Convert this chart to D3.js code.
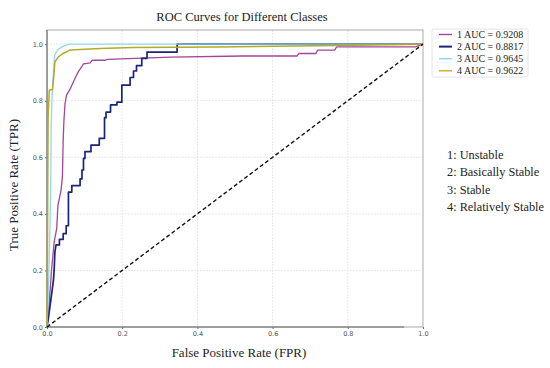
<!DOCTYPE html>
<html>
<head>
<meta charset="utf-8">
<script src="https://cdn.jsdelivr.net/npm/d3@7"></script>
<style>
  body { margin: 0; background: #fff; }
  svg { display: block; }
  .serif { font-family: "Liberation Serif", "Times New Roman", serif; fill: #222; }
  .tick text { font-family: "DejaVu Sans", sans-serif; font-size: 6.5px; fill: #555; }
</style>
</head>
<body>
<svg id="chart" width="550" height="368"></svg>
<script>
// ROC points, [fpr, tpr]
const CLASS_1 = [[0,0],[0.004,0.05],[0.012,0.2],[0.019,0.3],[0.026,0.35],[0.029,0.43],[0.037,0.48],[0.041,0.53],[0.043,0.66],[0.045,0.73],[0.048,0.79],[0.052,0.82],[0.061,0.84],[0.066,0.855],[0.075,0.88],[0.083,0.902],[0.092,0.92],[0.097,0.93],[0.115,0.934],[0.12,0.943],[0.155,0.943],[0.16,0.946],[0.33,0.954],[0.52,0.958],[0.665,0.958],[0.67,0.967],[0.715,0.967],[0.72,0.979],[0.765,0.979],[0.77,0.99],[0.98,0.99],[1,1]];
const CLASS_2 = [[0,0],[0.003,0.025],[0.01,0.093],[0.017,0.164],[0.019,0.2],[0.021,0.265],[0.024,0.29],[0.033,0.29],[0.033,0.31],[0.043,0.31],[0.043,0.33],[0.051,0.33],[0.051,0.358],[0.057,0.358],[0.057,0.477],[0.066,0.477],[0.066,0.5],[0.088,0.5],[0.088,0.524],[0.093,0.524],[0.093,0.555],[0.097,0.555],[0.097,0.596],[0.101,0.596],[0.101,0.62],[0.117,0.62],[0.117,0.643],[0.139,0.643],[0.139,0.667],[0.153,0.667],[0.153,0.74],[0.157,0.74],[0.157,0.76],[0.169,0.76],[0.169,0.785],[0.186,0.785],[0.186,0.795],[0.199,0.795],[0.199,0.855],[0.221,0.855],[0.221,0.882],[0.230,0.882],[0.230,0.905],[0.238,0.905],[0.238,0.924],[0.252,0.924],[0.252,0.95],[0.266,0.95],[0.266,0.972],[0.346,0.972],[0.346,1],[1,1]];
const CLASS_3 = [[0,0],[0.003,0.1],[0.007,0.3],[0.01,0.5],[0.011,0.7],[0.013,0.8],[0.015,0.86],[0.017,0.9],[0.02,0.96],[0.028,0.98],[0.039,0.99],[0.057,1],[1,1]];
const CLASS_4 = [[0,0],[0.001,0.2],[0.002,0.5],[0.003,0.743],[0.006,0.837],[0.015,0.84],[0.019,0.902],[0.021,0.937],[0.03,0.955],[0.043,0.967],[0.061,0.979],[0.141,0.985],[0.229,0.988],[0.45,0.99],[0.77,0.995],[1,1]];

const SERIES = [CLASS_1, CLASS_2, CLASS_3, CLASS_4];
const LEGEND_LABELS = ["1 AUC = 0.9208", "2 AUC = 0.8817", "3 AUC = 0.9645", "4 AUC = 0.9622"];
const COLORS = ["#a2459c", "#1c2478", "#8fd8f0", "#b4aa26"];
const WIDTHS = [1.3, 1.7, 1.3, 1.5];
const CLASS_NAMES = ["1: Unstable", "2: Basically Stable", "3: Stable", "4: Relatively Stable"];
const TICKS = [0, 0.2, 0.4, 0.6, 0.8, 1.0];

const svg = d3.select("#chart");
const M = {left: 47, right: 423, top: 30, bottom: 327};

const x = d3.scaleLinear().domain([0, 1]).range([M.left, M.right]);
const y = d3.scaleLinear().domain([0, 1.05]).range([M.bottom, M.top]);

// grid
svg.append("g").selectAll("line").data(TICKS.slice(1, 5)).join("line")
    .attr("x1", d => x(d)).attr("x2", d => x(d))
    .attr("y1", M.top).attr("y2", M.bottom)
    .attr("stroke", "#ddd").attr("stroke-width", 0.7).attr("stroke-dasharray", "2,1");
svg.append("g").selectAll("line").data(TICKS.slice(1)).join("line")
    .attr("x1", M.left).attr("x2", M.right)
    .attr("y1", d => y(d)).attr("y2", d => y(d))
    .attr("stroke", "#ddd").attr("stroke-width", 0.7).attr("stroke-dasharray", "2,1");

// axes
const xAxis = svg.append("g").attr("transform", `translate(0,${M.bottom})`)
    .call(d3.axisBottom(x).tickValues(TICKS).tickFormat(d3.format(".1f")).tickSize(2).tickPadding(2));
const yAxis = svg.append("g").attr("transform", `translate(${M.left},0)`)
    .call(d3.axisLeft(y).tickValues(TICKS).tickFormat(d3.format(".1f")).tickSize(2).tickPadding(2));
[xAxis, yAxis].forEach(a => {
    a.select(".domain").remove();
    a.selectAll(".tick line").attr("stroke", "#666");
});
xAxis.selectAll(".tick").filter(d => d === 1).select("text").attr("fill", "#bbb");

// frame
svg.append("rect")
    .attr("x", M.left).attr("y", M.top)
    .attr("width", M.right - M.left).attr("height", M.bottom - M.top)
    .attr("fill", "none").attr("stroke", "#aaa").attr("stroke-width", 1);
svg.append("line").attr("x1", M.left).attr("x2", M.left).attr("y1", M.top).attr("y2", M.bottom)
    .attr("stroke", "#777").attr("stroke-width", 1.2);
svg.append("line").attr("x1", M.left).attr("x2", x(0.95)).attr("y1", M.bottom).attr("y2", M.bottom)
    .attr("stroke", "#666").attr("stroke-width", 1.2);

// curves
const line = d3.line().x(d => x(d[0])).y(d => y(d[1]));
svg.append("g").selectAll("path").data(SERIES).join("path")
    .attr("d", line)
    .attr("fill", "none")
    .attr("stroke", (d, i) => COLORS[i])
    .attr("stroke-width", (d, i) => WIDTHS[i])
    .attr("stroke-linejoin", "round");

// chance line
svg.append("path")
    .attr("d", line([[0, 0], [1, 1]]))
    .attr("stroke", "#111").attr("stroke-width", 1.4)
    .attr("stroke-dasharray", "4,2.5").attr("fill", "none");

// title + labels
svg.append("text").attr("class", "serif")
    .attr("x", 242).attr("y", 21).attr("text-anchor", "middle")
    .attr("font-size", 12.5).text("ROC Curves for Different Classes");
svg.append("text").attr("class", "serif")
    .attr("x", 239).attr("y", 357).attr("text-anchor", "middle")
    .attr("font-size", 13).text("False Positive Rate (FPR)");
svg.append("text").attr("class", "serif")
    .attr("transform", "translate(18,185) rotate(-90)").attr("text-anchor", "middle")
    .attr("font-size", 13).text("True Positive Rate (TPR)");

// legend
const lg = svg.append("g");
lg.append("rect").attr("x", 432).attr("y", 29).attr("width", 96).attr("height", 48)
    .attr("fill", "#fff").attr("stroke", "#ddd").attr("stroke-width", 0.8).attr("rx", 1.5);
const rows = lg.selectAll("g").data(LEGEND_LABELS).join("g")
    .attr("transform", (d, i) => `translate(0,${34.5 + i * 12.1})`);
rows.append("line").attr("x1", 439).attr("x2", 452)
    .attr("stroke", (d, i) => i === 3 ? "#d8a830" : COLORS[i]).attr("stroke-width", (d, i) => i === 1 ? 2 : 1.4);
rows.append("text").attr("class", "serif").attr("x", 457).attr("y", 3.6)
    .attr("font-size", 10).text(d => d);

// class names
svg.append("g").selectAll("text").data(CLASS_NAMES).join("text")
    .attr("class", "serif")
    .attr("x", 447).attr("y", (d, i) => 159 + i * 17.4)
    .attr("font-size", 12.3).text(d => d);
</script>
</body>
</html>
